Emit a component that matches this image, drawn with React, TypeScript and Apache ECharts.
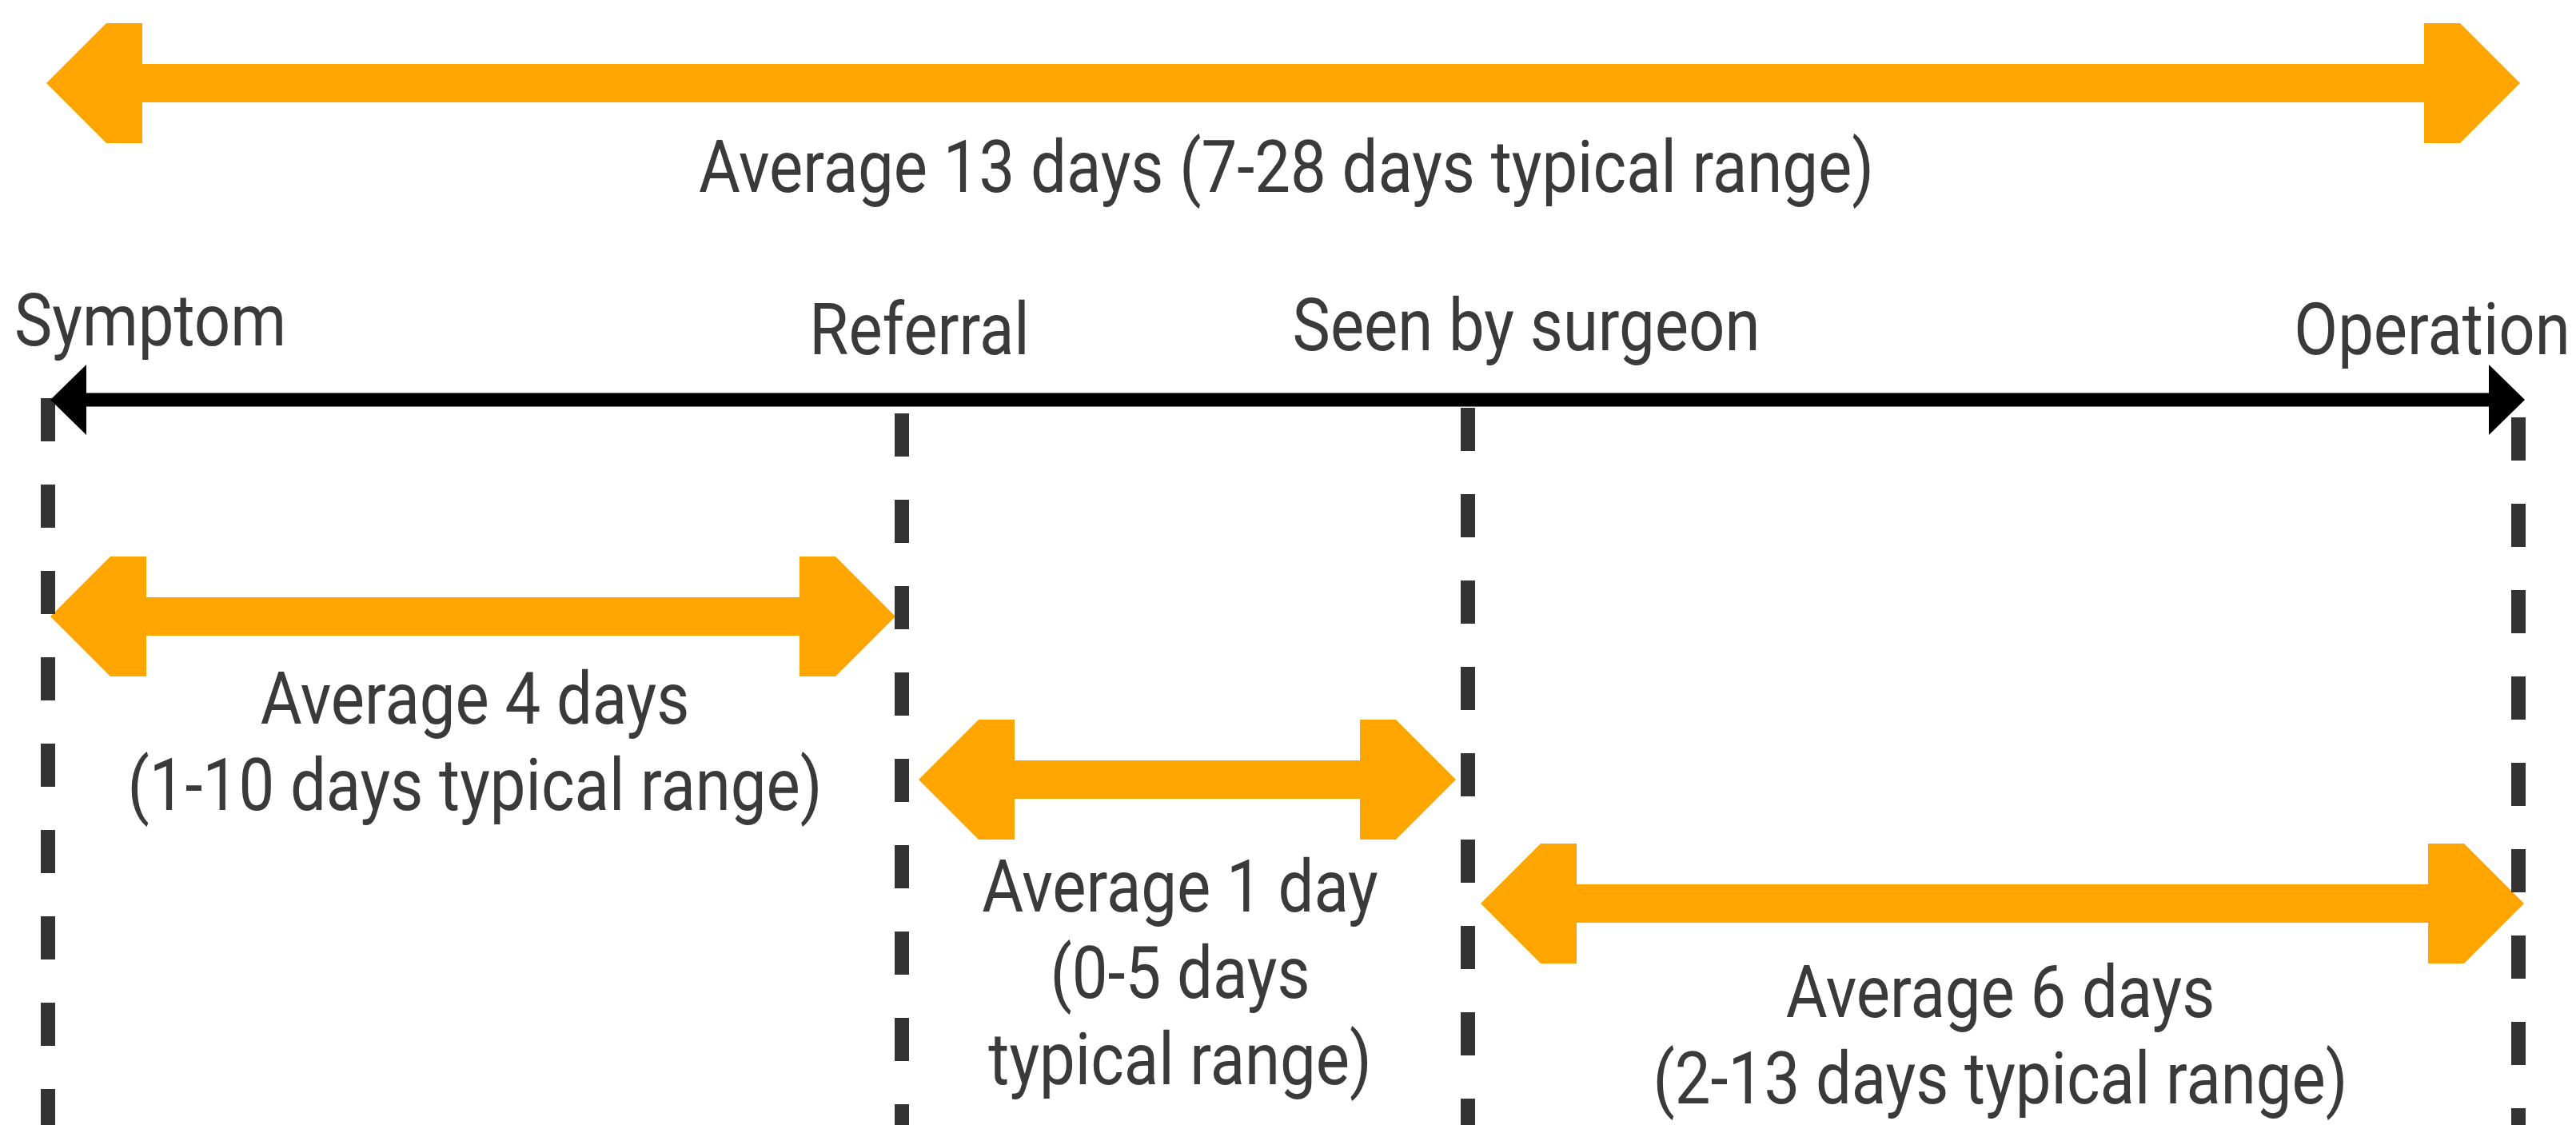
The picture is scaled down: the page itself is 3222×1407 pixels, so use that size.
import React, { useEffect, useRef } from "react";
import * as echarts from "echarts";

// ---------- data ----------
const stages = ["Symptom", "Referral", "Seen by surgeon", "Operation"];
const segmentAverageDays = [4, 1, 6];
const segmentTypicalRanges = ["1-10", "0-5", "2-13"];
const totalAverageDays = 13;
const totalTypicalRange = "7-28";

// ---------- layout (diagram units = canvas pixels) ----------
const W = 3222;
const H = 1407;
const stageLineX = [60, 1128, 1836, 3150];
const stageLineStartY = [498, 517, 510, 522];
const stageLabelX = [188, 1150, 1909, 3042];
const stageLabelBaseline = [432, 443, 438, 443];
const timelineY = 500;
const timelineFrom = 63;
const timelineTo = 3158;
const totalArrow = [58, 3152, 104];
const segmentArrows = [
  [63, 1120, 771],
  [1149, 1821, 975],
  [1852, 3157, 1130],
];
const totalLabelPos = [1609, 240];
const segmentLabelX = [594, 1476, 2502];
const segmentLabelFirstBaseline = [905, 1140, 1272];
const LINE_STEP = 108;
const FONT_SIZE = 90;
const TEXT_SCALE_X = 0.885;
const ORANGE = "#FFA500";
const TEXT_COLOR = "#3a3a3a";

const dayWord = (n: number) => (n === 1 ? "day" : "days");

// build text lines
const textItems: { x: number; baseline: number; text: string }[] = [];
textItems.push({
  x: totalLabelPos[0],
  baseline: totalLabelPos[1],
  text: `Average ${totalAverageDays} ${dayWord(totalAverageDays)} (${totalTypicalRange} days typical range)`,
});
stages.forEach((s, i) =>
  textItems.push({ x: stageLabelX[i], baseline: stageLabelBaseline[i], text: s })
);
const segmentLines: string[][] = segmentAverageDays.map((d, i) => {
  const first = `Average ${d} ${dayWord(d)}`;
  if (i === 1) {
    return [first, `(${segmentTypicalRanges[i]} days`, "typical range)"];
  }
  return [first, `(${segmentTypicalRanges[i]} days typical range)`];
});
segmentLines.forEach((lines, i) =>
  lines.forEach((t, k) =>
    textItems.push({
      x: segmentLabelX[i],
      baseline: segmentLabelFirstBaseline[i] + k * LINE_STEP,
      text: t,
    })
  )
);

const arrowData = [totalArrow, ...segmentArrows];
const dashData = stageLineX.map((x, i) => [x, stageLineStartY[i], H]);
const timelineData = [[timelineFrom, timelineTo, timelineY]];
const textData = textItems.map((t, i) => [t.x, t.baseline, i]);

// arrow geometry (pixels)
const SHAFT_HALF = 24;
const HEAD_HALF = 75;
const HEAD_LEN = 120;
const HEAD_DIAG = 75;

export default function App() {
  const ref = useRef<HTMLDivElement>(null);
  useEffect(() => {
    if (!ref.current) return;
    const chart = echarts.init(ref.current, undefined, { renderer: "svg" });
    chart.setOption({
      animation: false,
      backgroundColor: "#ffffff",
      grid: { left: 0, right: 0, top: 0, bottom: 0 },
      xAxis: { type: "value", min: 0, max: W, show: false },
      yAxis: { type: "value", min: 0, max: H, inverse: true, show: false },
      series: [
        {
          type: "custom",
          z: 1,
          data: arrowData,
          renderItem: (params: any, api: any) => {
            const a = api.coord([api.value(0), api.value(2)]);
            const b = api.coord([api.value(1), api.value(2)]);
            const L = a[0];
            const R = b[0];
            const cy = a[1];
            const pts = [
              [L, cy],
              [L + HEAD_DIAG, cy - HEAD_HALF],
              [L + HEAD_LEN, cy - HEAD_HALF],
              [L + HEAD_LEN, cy - SHAFT_HALF],
              [R - HEAD_LEN, cy - SHAFT_HALF],
              [R - HEAD_LEN, cy - HEAD_HALF],
              [R - HEAD_DIAG, cy - HEAD_HALF],
              [R, cy],
              [R - HEAD_DIAG, cy + HEAD_HALF],
              [R - HEAD_LEN, cy + HEAD_HALF],
              [R - HEAD_LEN, cy + SHAFT_HALF],
              [L + HEAD_LEN, cy + SHAFT_HALF],
              [L + HEAD_LEN, cy + HEAD_HALF],
              [L + HEAD_DIAG, cy + HEAD_HALF],
            ];
            return {
              type: "polygon",
              shape: { points: pts },
              style: { fill: ORANGE },
            };
          },
        },
        {
          type: "custom",
          z: 2,
          data: dashData,
          renderItem: (params: any, api: any) => {
            const a = api.coord([api.value(0), api.value(1)]);
            const b = api.coord([api.value(0), api.value(2)]);
            return {
              type: "line",
              shape: { x1: a[0], y1: a[1], x2: b[0], y2: b[1] },
              style: {
                stroke: "#333333",
                lineWidth: 18,
                lineDash: [54, 54],
                lineCap: "butt",
              },
            };
          },
        },
        {
          type: "custom",
          z: 3,
          data: timelineData,
          renderItem: (params: any, api: any) => {
            const a = api.coord([api.value(0), api.value(2)]);
            const b = api.coord([api.value(1), api.value(2)]);
            const L = a[0];
            const R = b[0];
            const cy = a[1];
            return {
              type: "group",
              children: [
                {
                  type: "line",
                  shape: { x1: L + 40, y1: cy, x2: R - 40, y2: cy },
                  style: { stroke: "#000000", lineWidth: 17 },
                },
                {
                  type: "polygon",
                  shape: { points: [[L, cy], [L + 45, cy - 44], [L + 45, cy + 44]] },
                  style: { fill: "#000000" },
                },
                {
                  type: "polygon",
                  shape: { points: [[R, cy], [R - 45, cy - 44], [R - 45, cy + 44]] },
                  style: { fill: "#000000" },
                },
              ],
            };
          },
        },
        {
          type: "custom",
          z: 4,
          data: textData,
          renderItem: (params: any, api: any) => {
            const p = api.coord([api.value(0), api.value(1)]);
            const item = textItems[api.value(2)];
            return {
              type: "text",
              x: p[0],
              y: p[1] - FONT_SIZE * 0.342,
              scaleX: TEXT_SCALE_X,
              style: {
                text: item.text,
                fill: TEXT_COLOR,
                fontSize: FONT_SIZE,
                fontFamily: "Roboto",
                fontWeight: 400,
                align: "center",
                verticalAlign: "middle",
              },
            };
          },
        },
      ],
    });
    return () => chart.dispose();
  }, []);
  return (
    <div
      ref={ref}
      style={{
        position: "fixed",
        left: 0,
        top: 0,
        width: W + "px",
        height: H + "px",
        background: "#fff",
      }}
    />
  );
}
